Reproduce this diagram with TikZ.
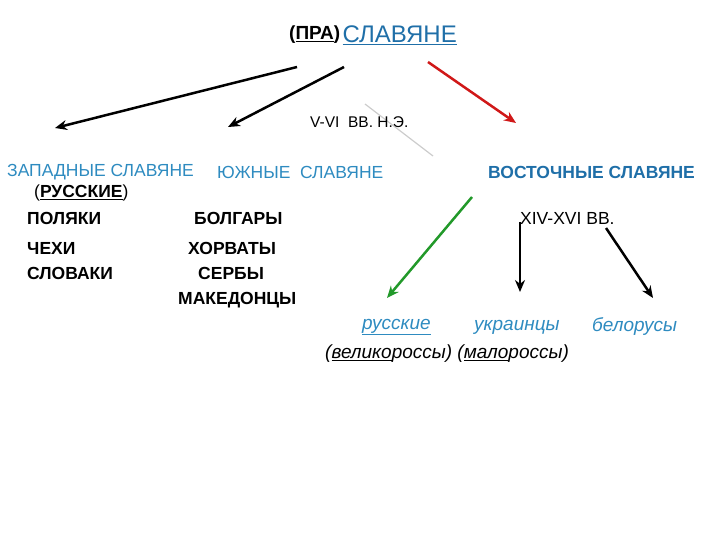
\documentclass[tikz,border=0pt]{standalone}
\usepackage{fontspec}
\setmainfont{Liberation Sans}
\usetikzlibrary{arrows.meta}
\definecolor{sblue}{HTML}{1F6FA8}
\definecolor{lblue}{HTML}{2E8BC0}
\definecolor{ared}{HTML}{D01818}
\definecolor{agreen}{HTML}{22992A}
\tikzset{
 t/.style={inner sep=0pt,anchor=west,font=\fontsize{17.5}{20}\selectfont},
 tb/.style={t,font=\fontsize{17.5}{20}\selectfont\bfseries},
 it/.style={t,font=\fontsize{19}{22}\selectfont\itshape},
 arr/.style={line width=2.5pt,-{Stealth[length=12pt,width=10pt]}},
}
\begin{document}
\begin{tikzpicture}[x=1pt,y=-1pt]
\useasboundingbox (0,0) rectangle (720,540);
\node[tb,font=\fontsize{19}{21}\selectfont\bfseries] (pra) at (289,35) {(\underline{ПРА})};
\node[t,font=\fontsize{24}{26}\selectfont,text=sblue,anchor=west] (sl) at ([xshift=2pt]pra.east) {\underline{СЛАВЯНЕ}};
\coordinate (a1) at (297,67); \coordinate (a1e) at (55,128);
\coordinate (a2) at (344,67); \coordinate (a2e) at (228,127);
\coordinate (a3) at (428,62); \coordinate (a3e) at (516,123);
\draw[arr] (a1) -- (a1e);
\draw[arr] (a2) -- (a2e);
\draw[arr,ared] (a3) -- (a3e);
\coordinate (g1) at (365,104); \coordinate (g2) at (433,156);
\draw[gray!40,line width=1.2pt] (g1) -- (g2);
\node[t,font=\fontsize{15.5}{18}\selectfont] (vv) at (310,122) {V-VI\ \ ВВ. Н.Э.};
\node[t,text=lblue] (zap) at (7,172) {ЗАПАДНЫЕ СЛАВЯНЕ};
\node[t,text=lblue] (yug) at (217,172) {ЮЖНЫЕ\ \ СЛАВЯНЕ};
\node[tb,text=sblue] (vos) at (488,172) {ВОСТОЧНЫЕ СЛАВЯНЕ};
\node[t] (rus) at (34,193) {(\textbf{\underline{РУССКИЕ}})};
\node[tb] (pol) at (27,218) {ПОЛЯКИ};
\node[tb] (che) at (27,248) {ЧЕХИ};
\node[tb] (slo) at (27,273) {СЛОВАКИ};
\node[tb] (bol) at (194,218) {БОЛГАРЫ};
\node[tb] (hor) at (188,248) {ХОРВАТЫ};
\node[tb] (ser) at (198,273) {СЕРБЫ};
\node[tb] (mak) at (178,300) {МАКЕДОНЦЫ};
\node[t] (xiv) at (520,218) {XIV-XVI ВВ.};
\coordinate (b1) at (472,197); \coordinate (b1e) at (387,298);
\coordinate (b2) at (520,222); \coordinate (b2e) at (520,292);
\coordinate (b3) at (606,228); \coordinate (b3e) at (653,298);
\draw[arr,agreen] (b1) -- (b1e);
\draw[arr] (b2) -- (b2e);
\draw[arr] (b3) -- (b3e);
\node[it,text=lblue] (r1) at (362,327) {\underline{русские}};
\node[it,text=lblue] (r2) at (474,327) {украинцы};
\node[it,text=lblue] (r3) at (592,327) {белорусы};
\node[it] (vel) at (325,354) {(\underline{велико}россы)\ (\underline{мало}россы)};
\end{tikzpicture}
\end{document}
